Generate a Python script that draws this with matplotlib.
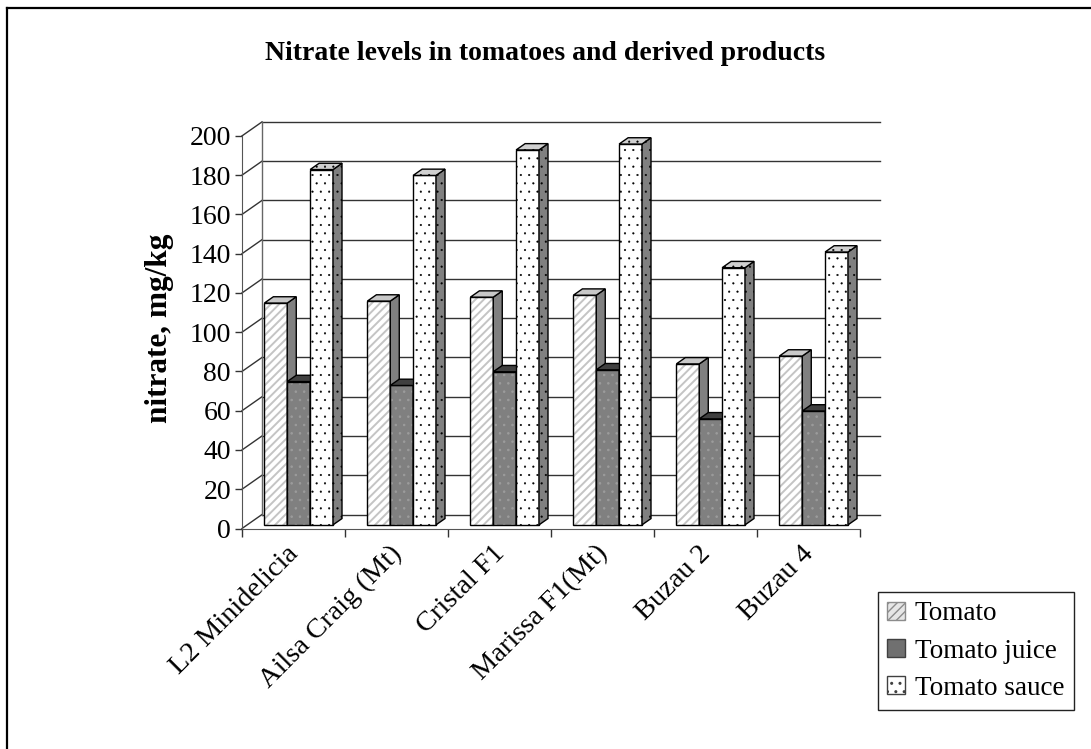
#!/usr/bin/env python3

import numpy as np
import matplotlib
matplotlib.use('Agg')
import matplotlib.pyplot as plt
from matplotlib.patches import Polygon, Patch
from matplotlib.lines import Line2D

plt.rcParams['font.family'] = ['Liberation Serif', 'DejaVu Serif']

categories = ["L2 Minidelicia", "Ailsa Craig (Mt)", "Cristal F1",
              "Marissa F1(Mt)", "Buzau 2", "Buzau 4"]
series = ["Tomato", "Tomato juice", "Tomato sauce"]
tomato = [113, 114, 116, 117, 82, 86]
juice = [73, 71, 78, 79, 54, 58]
sauce = [181, 178, 191, 194, 131, 139]
yticks = list(range(0, 201, 20))

# looks of the three series: front, front hatch colour, hatch, hatch width, side, top
STYLES = [
  dict(face="#ffffff", hcol="#c4c4c4", hatch="////", hlw=1.4, side="#808080", top="#c8c8c8"),
  dict(face="#808080", hcol="#9c9c9c", hatch="..", hlw=0.6, side="#505050", top="#404040"),
  dict(face="#ffffff", hcol="#000000", hatch="..", hlw=0.3, side="#808080", top="#d0d0d0"),
]

W, H, DPI = 1091, 749, 100
PX_X = 103.0       # pixels per category
PX_Y = 1.963       # pixels per unit
DX, DY = 20 / PX_X, 14 / PX_Y   # depth of the 3d box in data units
F0, FD = 0.26, 0.45             # bar front position and depth (fraction of box)
BW = 0.222

fig = plt.figure(figsize=(W / DPI, H / DPI), dpi=DPI)
fig.patch.set_facecolor("white")
ax = fig.add_axes([242 / W, 220.5 / H, 6.2 * PX_X / W, 210 * PX_Y / H])
ax.set_xlim(0, 6.2)
ax.set_ylim(0, 210)
ax.patch.set_alpha(0)

# back wall, floor and diagonals
GRID = "#333333"
for v in yticks:
  ax.plot([DX, 6 + DX], [v + DY, v + DY], color=GRID, lw=1, zorder=1, clip_on=False)
  ax.plot([0, DX], [v, v + DY], color=GRID, lw=1, zorder=1, clip_on=False)
ax.plot([DX, DX], [DY, 200 + DY], color="#666666", lw=1, zorder=1, clip_on=False)

# bars
x = np.arange(len(categories)) + 0.5
for k, values in enumerate([tomato, juice, sauce]):
  st = STYLES[k]
  xs = x + (k - 1) * BW + F0 * DX
  z = 3 + k
  with plt.rc_context({'hatch.linewidth': st["hlw"]}):
    ax.bar(xs, values, BW, bottom=F0 * DY, color=st["face"], edgecolor=st["hcol"],
           hatch=st["hatch"], linewidth=0, zorder=z)
  rects = ax.bar(xs, values, BW, bottom=F0 * DY, fill=False, edgecolor="black",
                 linewidth=1, zorder=z)
  ddx, ddy = FD * DX, FD * DY
  for r in rects:
    x0, y0, w, h = r.get_x(), r.get_y(), r.get_width(), r.get_height()
    side = [(x0 + w, y0), (x0 + w + ddx, y0 + ddy), (x0 + w + ddx, y0 + h + ddy), (x0 + w, y0 + h)]
    top = [(x0, y0 + h), (x0 + w, y0 + h), (x0 + w + ddx, y0 + h + ddy), (x0 + ddx, y0 + h + ddy)]
    for pts, col in [(side, st["side"]), (top, st["top"])]:
      hat = st["hatch"] if k == 2 else None
      with plt.rc_context({'hatch.linewidth': st["hlw"]}):
        ax.add_patch(Polygon(pts, closed=True, facecolor=col, edgecolor="#000000" if hat else col,
                             hatch=hat, linewidth=0, zorder=z))
      ax.add_patch(Polygon(pts, closed=True, fill=False, edgecolor="black", linewidth=1, zorder=z))

# axes
for s in ["top", "right"]:
  ax.spines[s].set_visible(False)
ax.spines["left"].set_bounds(0, 200)
ax.spines["bottom"].set_bounds(0, 6)
ax.spines["left"].set_color("#555555")
ax.spines["bottom"].set_color("#555555")
ax.set_yticks(yticks)
ax.set_yticklabels([str(v) for v in yticks], fontsize=20)
ax.tick_params(axis="y", direction="out", length=5, width=1, pad=3, color="#333333")
ax.set_xticks(np.arange(0, 7))
ax.set_xticklabels([])
ax.tick_params(axis="x", which="major", direction="out", length=6, width=1, color="#333333")
ax.set_xticks(x + 0.1, minor=True)
ax.set_xticklabels(categories, minor=True, rotation=45, ha="right", va="top", fontsize=20.5)
ax.tick_params(axis="x", which="minor", length=0, pad=9)

fig.text(545 / W, 1 - 53 / H, "Nitrate levels in tomatoes and derived products",
         ha="center", va="center", fontsize=20, fontweight="bold")
fig.text(160 / W, 1 - 328 / H, "nitrate, mg/kg", rotation=90, ha="center", va="center",
         fontsize=22.5, fontweight="bold")

handles = [
  Patch(facecolor="#e6e6e6", edgecolor="#8c8c8c", hatch="////", label=series[0]),
  Patch(facecolor="#707070", edgecolor="#404040", label=series[1]),
  Patch(facecolor="#ffffff", edgecolor="#404040", hatch="..", label=series[2]),
]
leg = fig.legend(handles=handles, loc="upper left", bbox_to_anchor=(878 / W, 1 - 592 / H),
                 bbox_transform=fig.transFigure, borderaxespad=0, fancybox=False,
                 fontsize=19.5, handlelength=0.65, handleheight=0.65, handletextpad=0.35,
                 labelspacing=0.45, borderpad=0.35, framealpha=1)
leg.get_frame().set_edgecolor("#222222")
leg.get_frame().set_linewidth(1)

# outer chart border
fig.add_artist(Line2D([7 / W, 1], [1 - 8 / H, 1 - 8 / H], color="black", lw=1.6,
                      transform=fig.transFigure))
fig.add_artist(Line2D([7 / W, 7 / W], [0, 1 - 8 / H], color="black", lw=1.6,
                      transform=fig.transFigure))

fig.savefig("out.png", dpi=DPI)
